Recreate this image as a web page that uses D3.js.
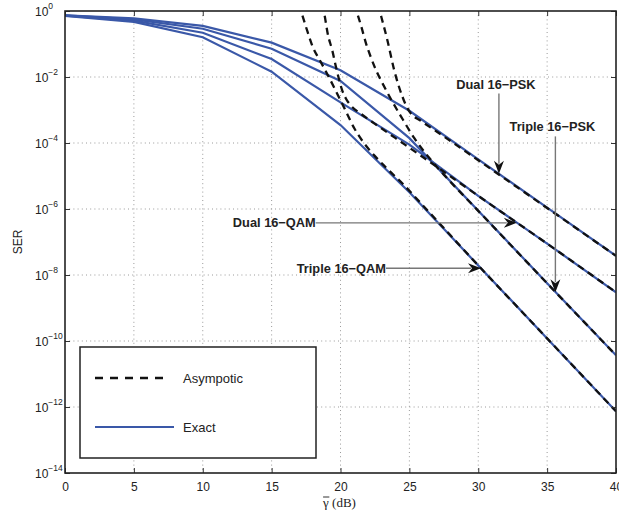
<!DOCTYPE html>
<html>
<head>
<meta charset="utf-8">
<script src="https://cdn.jsdelivr.net/npm/d3@7"></script>
<style>
  body { margin: 0; background: #fff; }
  text { font-family: "Liberation Sans", Arial, sans-serif; fill: #222; }
</style>
</head>
<body>
<svg id="chart" width="619" height="521"></svg>
<script>
// Average SNR (dB) at which the exact SER was evaluated
const snrDb = [0, 5, 10, 15, 20, 25, 30, 35, 40];

// Exact SER
const exactDualPSK   = [0.74, 0.60, 0.355, 0.11, 1.6e-2, 9.5e-4, 3.2e-5, 1.1e-6, 3.8e-8];
const exactTriplePSK = [0.74, 0.56, 0.29, 7.2e-2, 7.6e-3, 1.4e-4, 8.9e-7, 5.6e-9, 3.7e-11];
const exactDualQAM   = [0.72, 0.51, 0.22, 3.5e-2, 1.7e-3, 8.9e-5, 2.5e-6, 8.9e-8, 3.0e-9];
const exactTripleQAM = [0.71, 0.47, 0.16, 1.45e-2, 3.5e-4, 3.2e-6, 1.95e-8, 1.2e-10, 7.4e-13];

// Asymptotic SER, [SNR dB, SER]
const asymDualPSK = [[22.72, 1.6], [22.85, 1.0], [23.43, 0.117], [23.9, 1.6e-2], [24.5, 2.5e-3],
  [24.8, 1.26e-3], [25.1, 7.9e-4], [25.8, 4.8e-4], [27, 2.2e-4], [30, 3.0e-5], [35, 1.07e-6], [40, 3.8e-8]];
const asymTriplePSK = [[21.0, 1.6], [21.16, 1.0], [21.5, 0.35], [21.85, 0.105], [22.2, 4.0e-2],
  [22.58, 1.6e-2], [23.06, 6.3e-3], [23.7, 2.0e-3], [24.4, 6.3e-4], [25.36, 1.4e-4], [26.45, 3.5e-5],
  [27.5, 1.1e-5], [30, 8.8e-7], [35, 5.6e-9], [40, 3.7e-11]];
const asymDualQAM = [[18.62, 1.6], [18.78, 1.0], [19.1, 0.18], [19.4, 6.5e-2], [19.65, 2.2e-2],
  [19.85, 1.0e-2], [20.1, 4.2e-3], [20.4, 2.2e-3], [20.8, 1.3e-3], [21.5, 7.6e-4], [22.5, 3.8e-4],
  [24, 1.4e-4], [26, 3.7e-5], [30, 2.5e-6], [35, 8.9e-8], [40, 3.0e-9]];
const asymTripleQAM = [[16.97, 1.6], [17.13, 1.0], [17.6, 0.24], [18.0, 7.9e-2], [18.5, 3.2e-2],
  [19.1, 1.1e-2], [19.7, 3.5e-3], [20.3, 1.1e-3], [21.0, 2.8e-4], [21.7, 1.0e-4], [22.5, 4.0e-5],
  [23.5, 1.5e-5], [24.5, 5.9e-6], [26, 1.26e-6], [30, 1.95e-8], [35, 1.2e-10], [40, 7.4e-13]];

// Axis ticks
const xTicks = [0, 5, 10, 15, 20, 25, 30, 35, 40];
const yTickExponents = [0, -2, -4, -6, -8, -10, -12, -14];

// Curve labels: text, arrow tail and arrow tip in data units
const curveLabels = [
  { text: "Dual 16\u2212PSK",   tail: [31.5, 10 ** -2.5], tip: [31.5, 1.17e-5], dir: "down" },
  { text: "Triple 16\u2212PSK", tail: [35.6, 10 ** -3.8], tip: [35.6, 3.0e-9],  dir: "down" },
  { text: "Dual 16\u2212QAM",   tail: [18.2, 3.8e-7],     tip: [32.8, 3.8e-7],  dir: "right" },
  { text: "Triple 16\u2212QAM", tail: [23.3, 1.6e-8],     tip: [30.2, 1.6e-8],  dir: "right" }
];

const legendItems = ["Asympotic", "Exact"];

const BLUE = "#3a58a8";
const svg = d3.select("#chart");
const L = 65, R = 616, T = 11, B = 473;

const x = d3.scaleLinear().domain([0, 40]).range([L, R]);
const y = d3.scaleLog().domain([1e-14, 1]).range([B, T]);

svg.append("defs").append("clipPath").attr("id", "plotClip")
  .append("rect").attr("x", L).attr("y", T).attr("width", R - L).attr("height", B - T);

// Dotted grid
const grid = svg.append("g").attr("stroke", "#9a9a9a").attr("stroke-width", 1)
  .attr("stroke-dasharray", "1,3.2");
xTicks.slice(1, -1).forEach(v => grid.append("line")
  .attr("x1", x(v)).attr("x2", x(v)).attr("y1", T).attr("y2", B));
yTickExponents.slice(1, -1).forEach(e => grid.append("line")
  .attr("x1", L).attr("x2", R).attr("y1", y(10 ** e)).attr("y2", y(10 ** e)));

const plot = svg.append("g").attr("clip-path", "url(#plotClip)");

const exactLine = d3.line().x((d, i) => x(snrDb[i])).y(d => y(d));
[exactDualPSK, exactTriplePSK, exactDualQAM, exactTripleQAM].forEach(s => {
  plot.append("path").attr("d", exactLine(s)).attr("fill", "none")
    .attr("stroke", BLUE).attr("stroke-width", 2.2);
});

const asymLine = d3.line().x(d => x(d[0])).y(d => y(d[1])).curve(d3.curveMonotoneX);
[asymDualPSK, asymTriplePSK, asymDualQAM, asymTripleQAM].forEach(s => {
  plot.append("path").attr("d", asymLine(s)).attr("fill", "none")
    .attr("stroke", "#111").attr("stroke-width", 2.3).attr("stroke-dasharray", "7,5");
});

// Arrowed curve labels
function arrowHead(g, tx, ty, dir) {
  const len = 13, half = 5, notch = 9;
  let pts;
  if (dir === "down") {
    pts = [[tx, ty], [tx - half, ty - len], [tx, ty - notch], [tx + half, ty - len]];
  } else {
    pts = [[tx, ty], [tx - len, ty - half], [tx - notch, ty], [tx - len, ty + half]];
  }
  g.append("path").attr("d", "M" + pts.map(p => p.join(",")).join("L") + "Z").attr("fill", "#111");
}
curveLabels.forEach(a => {
  const g = svg.append("g");
  const x0 = x(a.tail[0]), y0 = y(a.tail[1]), x1 = x(a.tip[0]), y1 = y(a.tip[1]);
  const ex = a.dir === "down" ? x1 : x1 - 10, ey = a.dir === "down" ? y1 - 10 : y1;
  g.append("line").attr("x1", x0).attr("y1", y0).attr("x2", ex).attr("y2", ey)
    .attr("stroke", "#777").attr("stroke-width", 1.4);
  arrowHead(g, x1, y1, a.dir);
  const t = g.append("text").text(a.text).attr("font-weight", "bold").attr("font-size", 12.8);
  if (a.dir === "down") {
    t.attr("x", x0 - 3).attr("y", y0 - 5).attr("text-anchor", "middle");
  } else {
    t.attr("x", x0).attr("y", y0 + 4.5).attr("text-anchor", "end");
  }
});

// Legend
const lg = svg.append("g");
lg.append("rect").attr("x", 80).attr("y", 347).attr("width", 236).attr("height", 111)
  .attr("fill", "#fff").attr("stroke", "#222").attr("stroke-width", 1.5);
lg.append("line").attr("x1", 95).attr("x2", 170).attr("y1", 378).attr("y2", 378)
  .attr("stroke", "#111").attr("stroke-width", 2.3).attr("stroke-dasharray", "8,7");
lg.append("line").attr("x1", 95).attr("x2", 174).attr("y1", 427).attr("y2", 427)
  .attr("stroke", BLUE).attr("stroke-width", 2.2);
legendItems.forEach((s, i) => lg.append("text").attr("x", 183).attr("y", 382.5 + i * 49)
  .attr("font-size", 13).text(s));

// Axes
const xAxisB = d3.axisBottom(x).tickValues(xTicks).tickSize(-5).tickPadding(9).tickFormat(d3.format("d"));
const gxb = svg.append("g").attr("transform", `translate(0,${B})`).call(xAxisB);
const xAxisT = d3.axisTop(x).tickValues(xTicks).tickSize(-5).tickFormat("");
const gxt = svg.append("g").attr("transform", `translate(0,${T})`).call(xAxisT);
const yVals = yTickExponents.map(e => 10 ** e);
const yAxisL = d3.axisLeft(y).tickValues(yVals).tickSize(-5).tickFormat("");
const gyl = svg.append("g").attr("transform", `translate(${L},0)`).call(yAxisL);
const yAxisR = d3.axisRight(y).tickValues(yVals).tickSize(-5).tickFormat("");
const gyr = svg.append("g").attr("transform", `translate(${R},0)`).call(yAxisR);

[gxb, gxt, gyl, gyr].forEach(g => {
  g.select(".domain").remove();
  g.selectAll(".tick line").attr("stroke", "#333").attr("stroke-width", 1);
});
gxb.selectAll(".tick text").attr("font-size", 12)
  .attr("font-family", "Liberation Sans, Arial, sans-serif").attr("fill", "#222");

// Power-of-ten labels
yTickExponents.forEach(e => {
  const t = svg.append("text").attr("x", 35).attr("y", y(10 ** e) + 4.5).attr("font-size", 12);
  t.append("tspan").text("10");
  t.append("tspan").attr("dy", -6.5).attr("font-size", 8.5)
    .text(e === 0 ? "0" : "\u2212" + Math.abs(e));
});

// Plot frame
svg.append("rect").attr("x", L).attr("y", T).attr("width", R - L).attr("height", B - T)
  .attr("fill", "none").attr("stroke", "#222").attr("stroke-width", 1.6);

// Axis titles
svg.append("text").attr("transform", `translate(22,${(T + B) / 2}) rotate(-90)`)
  .attr("text-anchor", "middle").attr("font-size", 12).text("SER");
const xt = svg.append("text").attr("x", (L + R) / 2 - 1).attr("y", 507).attr("text-anchor", "middle")
  .attr("font-size", 13).attr("fill", "#333")
  .style("font-family", "Liberation Serif, 'Times New Roman', serif")
  .text("\u03b3 (dB)");
// bar over the gamma
const xtNode = xt.node();
const g0 = xtNode.getStartPositionOfChar(0).x, g1 = xtNode.getEndPositionOfChar(0).x;
svg.append("line").attr("x1", g0).attr("x2", g1 + 0.5).attr("y1", 497).attr("y2", 497)
  .attr("stroke", "#333").attr("stroke-width", 1);
</script>
</body>
</html>
